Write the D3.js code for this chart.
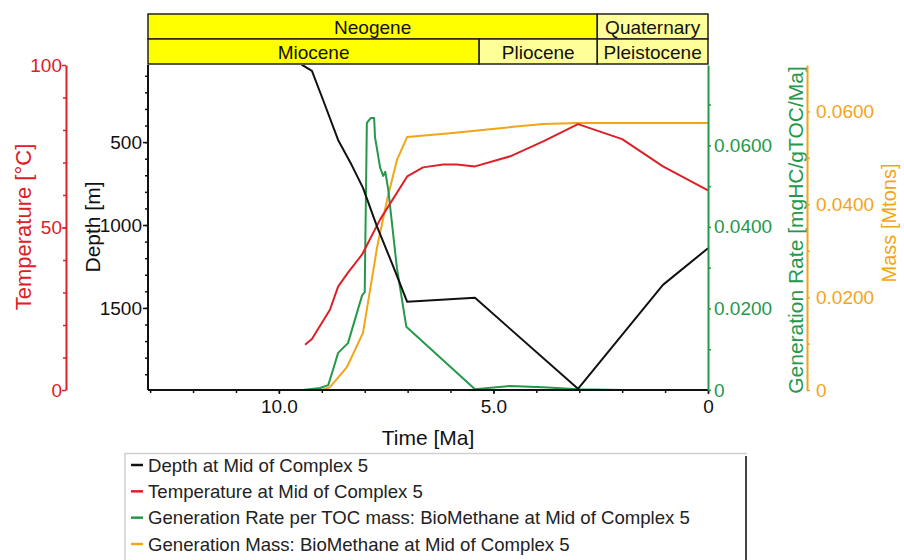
<!DOCTYPE html>
<html>
<head>
<meta charset="utf-8">
<script src="https://cdn.jsdelivr.net/npm/d3@7"></script>
<style>
  html, body { margin: 0; padding: 0; background: #fff; }
  svg { display: block; font-family: "Liberation Sans", Arial, sans-serif; }
</style>
</head>
<body>
<svg id="chart" width="904" height="560"></svg>
<script>
// Burial history at the middle of Complex 5 (time in Ma before present)
const depthTime  = [9.60, 9.46, 9.23, 8.97, 8.62, 8.30, 8.04, 7.71, 7.35, 7.01, 5.43, 3.03, 1.05, 0.0];
const depthValue = [0, 34, 70, 246, 487, 640, 776, 1011, 1240, 1463, 1439, 1988, 1361, 1140];

const tempTime  = [9.39, 9.23, 8.81, 8.62, 8.39, 8.06, 7.64, 7.01, 6.64, 6.17, 5.85, 5.43, 4.61, 3.84, 3.03, 2.00, 1.05, 0.0];
const tempValue = [13.9, 15.7, 24.7, 31.8, 36.1, 41.7, 52.5, 65.7, 68.5, 69.4, 69.4, 68.8, 71.9, 76.5, 81.8, 77.2, 68.8, 61.4];

const rateTime  = [9.44, 9.04, 8.85, 8.74, 8.62, 8.39, 8.06, 8.00, 7.95, 7.86, 7.78, 7.76, 7.64, 7.57, 7.52, 7.45, 7.25, 7.03, 5.43, 4.61, 3.84, 3.03, 2.00, 0.0];
const rateValue = [0, 0.0005, 0.0012, 0.0049, 0.0091, 0.0115, 0.0232, 0.0240, 0.0655, 0.0667, 0.0667, 0.0620, 0.0545, 0.0525, 0.0535, 0.0490, 0.0300, 0.0155, 0.0002, 0.0010, 0.0007, 0.0002, 0.0, 0.0];

const massTime  = [9.00, 8.81, 8.41, 8.04, 7.71, 7.48, 7.25, 7.01, 6.01, 4.85, 3.84, 3.03, 0.0];
const massValue = [0, 0.0006, 0.0050, 0.0123, 0.0308, 0.0409, 0.0495, 0.0545, 0.0553, 0.0564, 0.0573, 0.0575, 0.0575];

// Stratigraphic bands above the plot (ages in Ma)
const periodNames = ["Neogene", "Quaternary"];
const periodStart = [13.05, 2.58];
const periodEnd   = [2.58, 0];
const periodFill  = ["#ffff00", "#ffff99"];

const epochNames = ["Miocene", "Pliocene", "Pleistocene"];
const epochStart = [13.05, 5.333, 2.58];
const epochEnd   = [5.333, 2.58, 0];
const epochFill  = ["#ffff00", "#ffff99", "#ffff99"];

// Axis ticks
const timeTicks  = [10, 5, 0];
const depthTicks = [500, 1000, 1500];
const tempTicks  = [0, 50, 100];
const rateTicks  = [0, 0.02, 0.04, 0.06];
const massTicks  = [0, 0.02, 0.04, 0.06];

const legendLabels = [
  "Depth at Mid of Complex 5",
  "Temperature at Mid of Complex 5",
  "Generation Rate per TOC mass: BioMethane at Mid of Complex 5",
  "Generation Mass: BioMethane at Mid of Complex 5"
];

const C = { depth: "#111111", temp: "#dd2027", rate: "#25994a", mass: "#f2a516" };
const legendColors = [C.depth, C.temp, C.rate, C.mass];

const svg = d3.select("#chart");
const plot = { left: 148, right: 708, top: 65, bottom: 390 };

const x = d3.scaleLinear().domain([13.05, 0]).range([plot.left, plot.right]);
const yDepth = d3.scaleLinear().domain([35, 1995]).range([plot.top, plot.bottom]);
const yTemp  = d3.scaleLinear().domain([0, 100]).range([plot.bottom, plot.top]);
const yRate  = d3.scaleLinear().domain([0, 0.0797]).range([plot.bottom, plot.top]);
const yMass  = d3.scaleLinear().domain([0, 0.07]).range([plot.bottom, plot.top]);

// --- stratigraphic header
const header = svg.append("g");
function band(names, starts, ends, fills, y0, h) {
  names.forEach((n, i) => {
    const xa = x(starts[i]), xb = x(ends[i]);
    header.append("rect").attr("x", xa).attr("y", y0).attr("width", xb - xa).attr("height", h)
      .attr("fill", fills[i]).attr("stroke", "#222").attr("stroke-width", 1.5);
    header.append("text").attr("x", (xa + xb) / 2).attr("y", y0 + h / 2 + 7)
      .attr("text-anchor", "middle").attr("font-size", 19).attr("fill", "#111").text(n);
  });
}
band(periodNames, periodStart, periodEnd, periodFill, 14, 25);
band(epochNames, epochStart, epochEnd, epochFill, 39, 25);

// --- data lines (clipped to plot area)
svg.append("clipPath").attr("id", "clip").append("rect")
  .attr("x", plot.left).attr("y", plot.top).attr("width", plot.right - plot.left).attr("height", plot.bottom - plot.top);
const lines = svg.append("g").attr("clip-path", "url(#clip)");
function drawLine(ts, vs, yScale, color) {
  const pts = ts.map((t, i) => [t, vs[i]]);
  lines.append("path").datum(pts)
    .attr("fill", "none").attr("stroke", color).attr("stroke-width", 2).attr("stroke-linejoin", "round")
    .attr("d", d3.line().x(d => x(d[0])).y(d => yScale(d[1])));
}
drawLine(massTime, massValue, yMass, C.mass);
drawLine(rateTime, rateValue, yRate, C.rate);
drawLine(tempTime, tempValue, yTemp, C.temp);
drawLine(depthTime, depthValue, yDepth, C.depth);

// --- axes
const FS = 19;
function styleAxis(g, color, fs) {
  g.selectAll("path.domain").attr("stroke", color).attr("stroke-width", 2);
  g.selectAll("line").attr("stroke", color).attr("stroke-width", 1.5);
  g.selectAll("text").attr("fill", color).attr("font-size", fs).attr("font-family", "Liberation Sans, Arial, sans-serif");
}
function minor(g, axisGen, values) {
  g.call(axisGen.tickValues(values).tickFormat("").tickSize(3).tickSizeOuter(0));
  g.select("path.domain").remove();
}
const fmt4 = v => v === 0 ? "0" : d3.format(".4f")(v);

// time axis
const gx = svg.append("g").attr("transform", `translate(0,${plot.bottom})`);
minor(gx.append("g"), d3.axisBottom(x), d3.range(0, 14, 1));
gx.append("g").call(d3.axisBottom(x).tickValues(timeTicks).tickSize(4).tickSizeOuter(0).tickPadding(6)
  .tickFormat(v => v === 0 ? "0" : d3.format(".1f")(v)));
styleAxis(gx, "#111", FS);
gx.selectAll("path.domain").attr("d", `M${plot.left},0H${plot.right}`);
svg.append("text").attr("x", (plot.left + plot.right) / 2).attr("y", 445).attr("text-anchor", "middle")
  .attr("font-size", 21).attr("fill", "#111").text("Time [Ma]");

// depth axis
const gd = svg.append("g").attr("transform", `translate(${plot.left},0)`);
minor(gd.append("g"), d3.axisLeft(yDepth), d3.range(100, 2000, 100));
gd.append("g").call(d3.axisLeft(yDepth).tickValues(depthTicks).tickSize(5).tickSizeOuter(0).tickPadding(1).tickFormat(d3.format("d")));
styleAxis(gd, "#111", FS);
gd.selectAll("path.domain").attr("d", `M0,${plot.top}V${plot.bottom}`);
svg.append("text").attr("transform", `translate(100,227) rotate(-90)`).attr("text-anchor", "middle")
  .attr("font-size", 21).attr("fill", "#111").text("Depth [m]");

// temperature axis
const axT = 66;
const gt = svg.append("g").attr("transform", `translate(${axT},0)`);
minor(gt.append("g"), d3.axisLeft(yTemp), d3.range(10, 100, 10));
gt.append("g").call(d3.axisLeft(yTemp).tickValues(tempTicks).tickSize(4).tickSizeOuter(0).tickPadding(0));
styleAxis(gt, C.temp, FS);
svg.append("text").attr("transform", `translate(31,227) rotate(-90)`).attr("text-anchor", "middle")
  .attr("font-size", 22).attr("fill", C.temp).text("Temperature [°C]");

// generation rate axis
const gr = svg.append("g").attr("transform", `translate(${plot.right},0)`);
minor(gr.append("g"), d3.axisRight(yRate), [0.01, 0.03, 0.05, 0.07]);
gr.append("g").call(d3.axisRight(yRate).tickValues(rateTicks).tickSize(3).tickSizeOuter(0).tickPadding(3).tickFormat(fmt4));
styleAxis(gr, C.rate, FS);
svg.append("text").attr("transform", `translate(803,230) rotate(-90)`).attr("text-anchor", "middle")
  .attr("font-size", 21).attr("fill", C.rate).text("Generation Rate [mgHC/gTOC/Ma]");

// mass axis
const axM = 807;
const gm = svg.append("g").attr("transform", `translate(${axM},0)`);
minor(gm.append("g"), d3.axisRight(yMass), [0.01, 0.03, 0.05]);
gm.append("g").call(d3.axisRight(yMass).tickValues(massTicks).tickSize(3).tickSizeOuter(0).tickPadding(6).tickFormat(fmt4));
styleAxis(gm, C.mass, FS);
svg.append("text").attr("transform", `translate(896,223) rotate(-90)`).attr("text-anchor", "middle")
  .attr("font-size", 20).attr("fill", C.mass).text("Mass [Mtons]");

// --- legend
const lg = svg.append("g");
lg.append("path").attr("d", "M125,580V453.5H747").attr("fill", "none").attr("stroke", "#d0d0d0").attr("stroke-width", 1.5);
lg.append("line").attr("x1", 746).attr("x2", 746).attr("y1", 456).attr("y2", 570).attr("stroke", "#444").attr("stroke-width", 2);
const legendY = d3.scalePoint().domain(legendLabels).range([465, 544]);
legendLabels.forEach((lab, i) => {
  const yy = legendY(lab);
  lg.append("line").attr("x1", 131).attr("x2", 143).attr("y1", yy).attr("y2", yy)
    .attr("stroke", legendColors[i]).attr("stroke-width", 2.5);
  lg.append("text").attr("x", 148).attr("y", yy + 6.5).attr("font-size", 18.6).attr("fill", "#222").text(lab);
});
</script>
</body>
</html>
